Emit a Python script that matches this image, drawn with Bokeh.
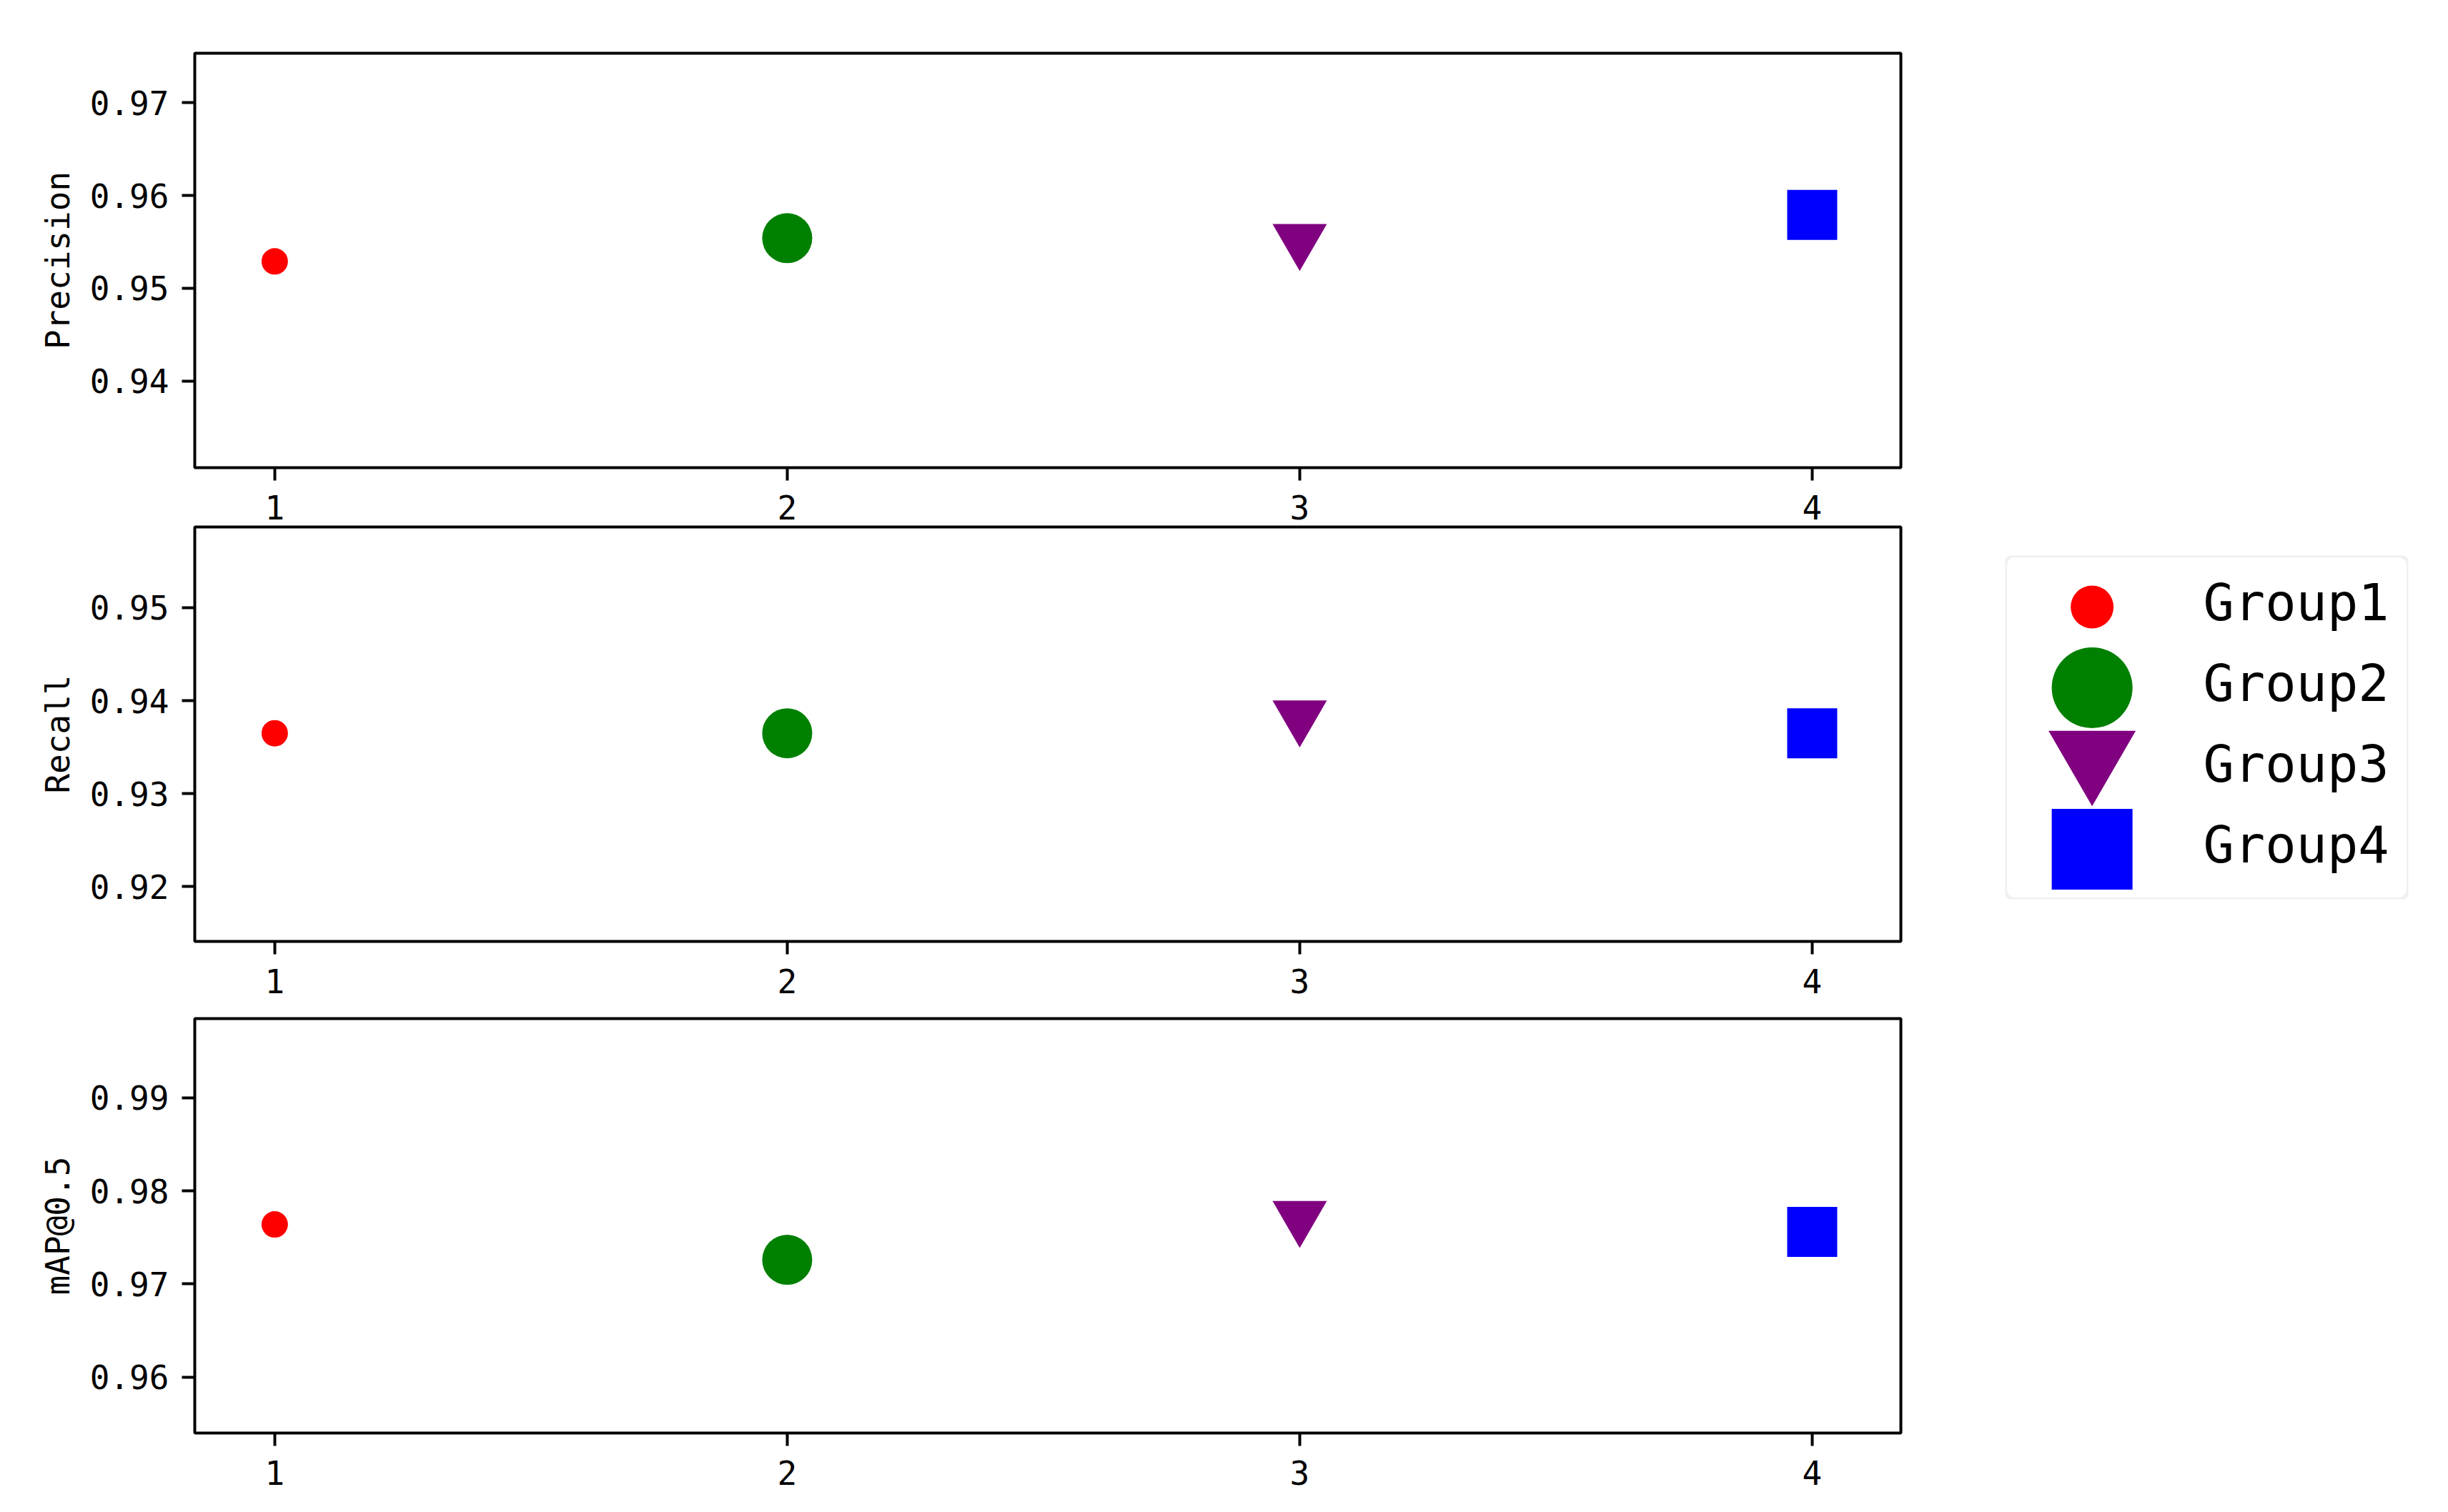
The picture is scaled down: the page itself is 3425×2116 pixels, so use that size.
from bokeh.plotting import figure
from bokeh.layouts import column, row
from bokeh.models import Range1d, FixedTicker, ColumnDataSource, BoxAnnotation
from bokeh.transform import dodge
from bokeh.core.properties import value
from bokeh.embed import file_html
from bokeh.resources import INLINE

# ---------------- data ----------------
groups = ["Group1", "Group2", "Group3", "Group4"]
x_pos = [1, 2, 3, 4]
precision = [0.9529, 0.9554, 0.9544, 0.9579]
recall = [0.9365, 0.9365, 0.9375, 0.9365]
map50 = [0.9764, 0.9726, 0.9764, 0.9756]

metric_names = ["Precision", "Recall", "mAP@0.5"]
metric_values = [precision, recall, map50]
y_limits = [(0.93069, 0.97531), (0.91412, 0.95868), (0.9540, 0.9985)]
y_ticks = [[0.94, 0.95, 0.96, 0.97], [0.92, 0.93, 0.94, 0.95], [0.96, 0.97, 0.98, 0.99]]
x_ticks = [1, 2, 3, 4]
x_limits = (0.844, 4.173)

# ---------------- styles ----------------
colors = ["#ff0000", "#008000", "#800080", "#0000ff"]
markers = ["circle", "circle", "inverted_triangle", "square"]
sizes = [37, 70, 76, 70]
legend_sizes = [60, 113, 122, 113]

FONT = "DejaVu Sans Mono"
TICK_FS = "46px"
FRAME_W = 2387
FRAME_H = 580
LEFT = 272
RIGHT = 10
# (top border, bottom border, top margin) per panel
TOP1 = 74
BOT = 110
BOT_LAST = 95
TOP_IN = 5
gaps = [83, 108]  # frame-to-frame gaps in the reference
panel_tops = [TOP1, TOP_IN, TOP_IN]
panel_bottoms = [BOT, BOT, BOT_LAST]
panel_margins = [0, -(BOT + TOP_IN - gaps[0]), -(BOT + TOP_IN - gaps[1])]


def tri_shift(size, px_per_unit):
    # align bokeh's centroid-centred triangle with a bbox-centred one
    h = size * 3 ** 0.5 / 2
    return (h / 6) / px_per_unit


figs = []
for k, name in enumerate(metric_names):
    lo, hi = y_limits[k]
    p = figure(frame_width=FRAME_W, frame_height=FRAME_H,
               x_range=Range1d(*x_limits), y_range=Range1d(lo, hi),
               min_border_left=LEFT, min_border_right=RIGHT,
               min_border_top=panel_tops[k], min_border_bottom=panel_bottoms[k],
               output_backend="svg", toolbar_location=None,
               background_fill_color="white", border_fill_color="white",
               margin=(panel_margins[k], 0, 0, 0))
    p.grid.visible = False
    p.outline_line_color = "black"
    p.outline_line_width = 4
    p.outline_line_alpha = 1.0

    px_per_unit = FRAME_H / (hi - lo)
    vals = metric_values[k]
    for i in range(len(groups)):
        src = ColumnDataSource(dict(x=[x_pos[i]], y=[vals[i]]))
        yspec = "y"
        if markers[i] == "inverted_triangle":
            yspec = dodge("y", tri_shift(sizes[i], px_per_unit))
        p.scatter(x="x", y=yspec, source=src, marker=markers[i], size=sizes[i],
                  fill_color=colors[i], line_color=colors[i], line_width=0)

    for ax in (p.xaxis[0], p.yaxis[0]):
        ax.axis_line_color = None
        ax.major_tick_in = 0
        ax.major_tick_out = 18
        ax.major_tick_line_width = 4
        ax.major_tick_line_color = "black"
        ax.minor_tick_line_color = None
        ax.major_label_text_font = FONT
        ax.major_label_text_font_size = TICK_FS
        ax.major_label_text_color = "black"
    p.xaxis.ticker = FixedTicker(ticks=x_ticks)
    p.yaxis.ticker = FixedTicker(ticks=y_ticks[k])
    p.xaxis.major_label_standoff = 20
    p.yaxis.major_label_standoff = 18
    p.yaxis.axis_label = name
    p.yaxis.axis_label_text_font = FONT
    p.yaxis.axis_label_text_font_size = TICK_FS
    p.yaxis.axis_label_text_font_style = "normal"
    p.yaxis.axis_label_text_color = "black"
    p.yaxis.axis_label_standoff = 15
    figs.append(p)

col = column(*figs, spacing=0)

# ---------------- legend ----------------
LEG_W = 564
LEG_H = 481
ROW_H = 113
first_row = 72
total_h = sum(t + FRAME_H + b + m for t, b, m in zip(panel_tops, panel_bottoms, panel_margins))
leg_top = 777
lg = figure(frame_width=LEG_W, frame_height=LEG_H,
            x_range=Range1d(0, LEG_W),
            y_range=Range1d((LEG_H - first_row) / ROW_H, -first_row / ROW_H),
            min_border_left=136, min_border_right=40,
            min_border_top=leg_top, min_border_bottom=total_h - leg_top - LEG_H,
            x_axis_type=None, y_axis_type=None,
            output_backend="svg", toolbar_location=None,
            background_fill_color="white", border_fill_color="white")
lg.grid.visible = False
lg.outline_line_color = None
lg.add_layout(BoxAnnotation(fill_color=None, line_color="#cccccc", line_width=5,
                            border_radius=14, level="underlay"))
for i in range(len(groups)):
    src = ColumnDataSource(dict(x=[121.6], y=[i]))
    yspec = "y"
    if markers[i] == "inverted_triangle":
        yspec = dodge("y", -tri_shift(legend_sizes[i], ROW_H))
    lg.scatter(x="x", y=yspec, source=src, marker=markers[i], size=legend_sizes[i],
               fill_color=colors[i], line_color=colors[i], line_width=0)
text_src = ColumnDataSource(dict(x=[277] * len(groups), y=list(range(len(groups))), t=groups))
lg.text(x="x", y=dodge("y", -0.06), text="t", source=text_src,
        text_font=value(FONT), text_font_size="72px", text_color="black",
        text_baseline="middle", text_align="left")

layout = row(col, lg, spacing=0)

open("out.html", "w").write(file_html(layout, INLINE))
